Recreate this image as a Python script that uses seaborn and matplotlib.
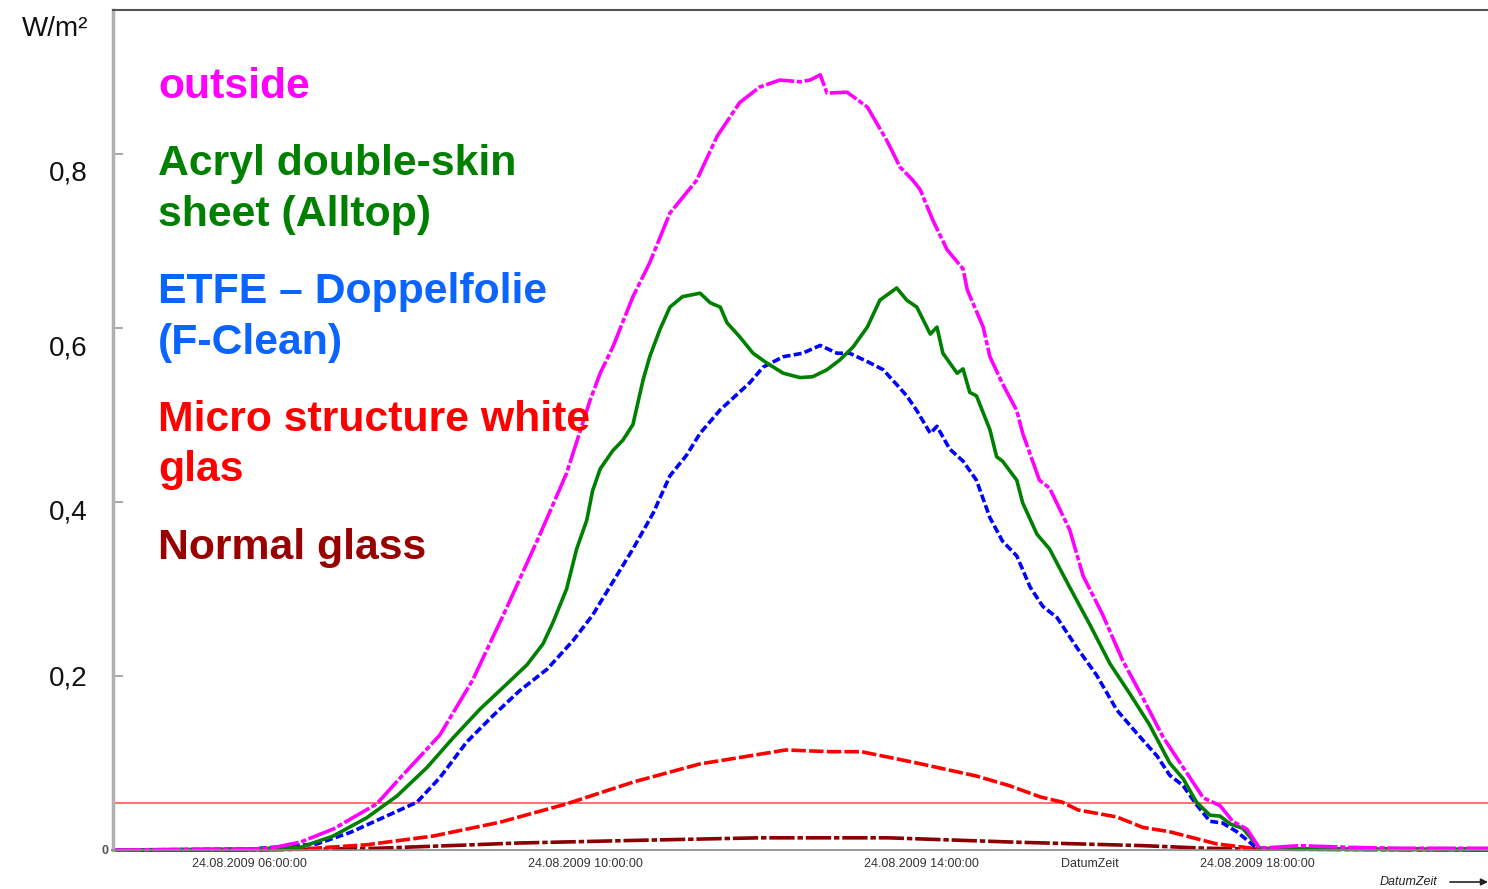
import matplotlib
matplotlib.use("Agg")
import matplotlib.pyplot as plt
import matplotlib.transforms as mtransforms
from matplotlib.ticker import MultipleLocator
import pandas as pd
import seaborn as sns

# ---------------- data (hours of 24.08.2009, W/m² as shown on axis) ----------------
t_outside = [4.37, 6.00, 6.24, 6.60, 6.99, 7.51, 7.79, 8.26, 8.65, 9.06, 9.45, 9.77, 10.05, 10.17,
             10.32, 10.56, 10.76, 11.00, 11.32, 11.56, 11.83, 12.07, 12.31, 12.55, 12.67, 12.79,
             12.87, 13.11, 13.35, 13.58, 13.74, 13.89, 13.98, 14.13, 14.30, 14.49, 14.54, 14.73,
             14.81, 14.96, 15.13, 15.20, 15.40, 15.52, 15.76, 15.92, 16.15, 16.39, 16.63, 16.87,
             17.11, 17.35, 17.55, 17.70, 17.87, 18.02, 18.50, 19.10, 19.69, 20.74]
v_outside = [0.000, 0.001, 0.002, 0.009, 0.024, 0.053, 0.083, 0.132, 0.195, 0.279, 0.362, 0.433,
             0.517, 0.548, 0.578, 0.636, 0.675, 0.732, 0.770, 0.820, 0.859, 0.877, 0.885, 0.883,
             0.885, 0.891, 0.870, 0.871, 0.854, 0.816, 0.785, 0.770, 0.759, 0.724, 0.690, 0.668,
             0.644, 0.601, 0.567, 0.536, 0.505, 0.479, 0.425, 0.416, 0.368, 0.315, 0.271, 0.218,
             0.175, 0.130, 0.095, 0.060, 0.051, 0.033, 0.024, 0.002, 0.005, 0.003, 0.002, 0.002]

t_acryl = [4.37, 6.00, 6.60, 6.99, 7.39, 7.75, 8.11, 8.42, 8.74, 9.06, 9.30, 9.49, 9.61, 9.77,
           9.89, 10.01, 10.08, 10.17, 10.32, 10.44, 10.56, 10.68, 10.76, 10.88, 11.00, 11.15,
           11.36, 11.48, 11.60, 11.68, 11.83, 11.99, 12.15, 12.35, 12.55, 12.70, 12.87, 13.02,
           13.18, 13.35, 13.50, 13.70, 13.82, 13.94, 14.10, 14.18, 14.25, 14.42, 14.49, 14.57,
           14.65, 14.81, 14.89, 14.96, 15.13, 15.20, 15.37, 15.52, 15.76, 16.00, 16.24, 16.48,
           16.71, 16.95, 17.11, 17.27, 17.43, 17.55, 17.67, 17.82, 18.02, 18.50, 20.74]
v_acryl = [0.000, 0.001, 0.003, 0.016, 0.037, 0.062, 0.095, 0.129, 0.162, 0.191, 0.213, 0.237,
           0.262, 0.300, 0.346, 0.379, 0.413, 0.438, 0.459, 0.471, 0.489, 0.540, 0.567, 0.598,
           0.624, 0.636, 0.640, 0.629, 0.624, 0.606, 0.590, 0.571, 0.560, 0.548, 0.543, 0.544,
           0.552, 0.563, 0.578, 0.601, 0.632, 0.646, 0.632, 0.624, 0.593, 0.601, 0.571, 0.548,
           0.553, 0.526, 0.522, 0.483, 0.452, 0.447, 0.425, 0.399, 0.363, 0.346, 0.302, 0.259,
           0.214, 0.179, 0.144, 0.100, 0.082, 0.055, 0.040, 0.039, 0.030, 0.025, 0.002, 0.001,
           0.001]

t_etfe = [4.37, 6.00, 6.80, 7.19, 7.58, 7.99, 8.26, 8.58, 8.89, 9.21, 9.54, 9.85, 10.08, 10.32,
          10.56, 10.80, 11.00, 11.20, 11.36, 11.60, 11.95, 12.11, 12.35, 12.58, 12.79, 12.99,
          13.14, 13.38, 13.54, 13.70, 13.82, 13.94, 14.10, 14.18, 14.33, 14.49, 14.65, 14.81,
          14.96, 15.13, 15.29, 15.44, 15.61, 15.85, 16.08, 16.32, 16.56, 16.80, 16.95, 17.11,
          17.27, 17.43, 17.58, 17.75, 17.99, 18.50, 20.74]
v_etfe = [0.000, 0.001, 0.007, 0.020, 0.037, 0.055, 0.083, 0.124, 0.154, 0.183, 0.208, 0.241,
          0.270, 0.308, 0.346, 0.387, 0.430, 0.454, 0.479, 0.506, 0.537, 0.555, 0.567, 0.571,
          0.580, 0.571, 0.571, 0.560, 0.552, 0.535, 0.522, 0.505, 0.479, 0.487, 0.461, 0.447,
          0.425, 0.382, 0.355, 0.338, 0.302, 0.280, 0.267, 0.232, 0.201, 0.161, 0.134, 0.108,
          0.086, 0.074, 0.052, 0.033, 0.031, 0.021, 0.002, 0.001, 0.001]

t_micro = [4.37, 6.00, 6.60, 7.39, 8.18, 8.98, 9.77, 10.56, 11.36, 11.62, 12.38, 12.90, 13.28,
           13.94, 14.65, 15.04, 15.41, 15.67, 15.86, 16.32, 16.63, 16.95, 17.51, 18.02, 20.74]
v_micro = [0.000, 0.000, 0.001, 0.006, 0.016, 0.032, 0.053, 0.078, 0.099, 0.103, 0.115, 0.113,
           0.113, 0.100, 0.085, 0.074, 0.061, 0.055, 0.046, 0.038, 0.026, 0.021, 0.007, 0.001,
           0.000]

t_normal = [4.37, 6.00, 7.52, 8.65, 9.19, 10.56, 12.07, 13.60, 15.11, 16.63, 17.39, 18.02, 20.74]
v_normal = [0.000, 0.000, 0.002, 0.006, 0.008, 0.011, 0.014, 0.014, 0.009, 0.005, 0.002, 0.001,
            0.000]

threshold = 0.054

y_ticks = [0, 0.2, 0.4, 0.6, 0.8]
y_labels = ["0", "0,2", "0,4", "0,6", "0,8"]
x_ticks = [6, 10, 14, 16, 18]
x_labels = ["24.08.2009 06:00:00", "24.08.2009 10:00:00", "24.08.2009 14:00:00",
            "DatumZeit", "24.08.2009 18:00:00"]

legend_lines = [("outside", "#ff00ff"),
                ("Acryl double-skin", "#008000"), ("sheet (Alltop)", "#008000"),
                ("ETFE \u2013 Doppelfolie", "#0a64ff"), ("(F-Clean)", "#0a64ff"),
                ("Micro structure white", "#ff0000"), ("glas", "#ff0000"),
                ("Normal glass", "#990000")]

# ---------------- styling ----------------
sns.set_style("white")
plt.rcParams['font.family'] = ['Liberation Sans', 'DejaVu Sans']

W, H = 1488, 889
fig = plt.figure(figsize=(W / 100, H / 100), dpi=100)
ax = fig.add_axes([113 / W, 1 - 850 / H, 1 - 113 / W, (850 - 10) / H])

series = [
    (t_normal, v_normal, "#8b0000", (7, 0.8, 1.5, 0.8)),
    (t_micro, v_micro, "#ff0000", (4, 0.9)),
    (t_etfe, v_etfe, "#0000ff", (2.2, 0.9)),
    (t_acryl, v_acryl, "#008000", None),
    (t_outside, v_outside, "#ff00ff", (8, 0.7, 1.5, 0.7)),
]
for t, v, col, dash in series:
    df = pd.DataFrame({"t": t, "v": v})
    sns.lineplot(data=df, x="t", y="v", ax=ax, color=col, lw=2.6,
                 estimator=None, sort=False, clip_on=False)
    ln = ax.lines[-1]
    if dash is not None:
        ln.set_linestyle((0, dash))

ax.axhline(threshold, color="#ff5a5a", lw=1.2, zorder=1)

ax.set_xlim(4.37, 20.74)
ax.set_ylim(0, 0.9655)
ax.set_xlabel("")
ax.set_ylabel("")

ax.set_xticks(x_ticks)
ax.set_xticklabels(x_labels, fontsize=9, color="#333333")
ax.xaxis.set_minor_locator(MultipleLocator(1 / 12))
ax.tick_params(axis="x", which="major", direction="in", length=7, width=1,
               color="#999999", pad=6)
ax.tick_params(axis="x", which="minor", direction="in", length=2.5, width=0.8,
               color="#aaaaaa")

ax.set_yticks(y_ticks)
ax.set_yticklabels(y_labels, fontsize=20, color="#111111")
ax.tick_params(axis="y", which="major", direction="in", length=7, width=1.2,
               color="#999999", pad=18, left=True)

# per-label vertical offsets (pixels down) to match the reference placement
offsets_px = [0, 0, 8, 18, 17]
for lab, off, txt in zip(ax.get_yticklabels(), offsets_px, y_labels):
    if txt == "0":
        lab.set_fontsize(9)
        lab.set_color("#555555")
        lab.set_fontweight("bold")
        lab.set_transform(lab.get_transform() +
                          mtransforms.ScaledTranslation(20 / 100, 0, fig.dpi_scale_trans))
    else:
        lab.set_transform(lab.get_transform() +
                          mtransforms.ScaledTranslation(0, -off / 100, fig.dpi_scale_trans))

ax.spines["right"].set_visible(False)
ax.spines["top"].set_color("#555555")
ax.spines["top"].set_linewidth(1.5)
ax.spines["left"].set_color("#b0b0b0")
ax.spines["left"].set_linewidth(2.5)
ax.spines["bottom"].set_color("#888888")
ax.spines["bottom"].set_linewidth(1.2)

# unit label
fig.text(55 / W, 1 - 29 / H, "W/m\u00b2", fontsize=20, ha="center", va="center",
         color="#111111")

# legend-like labels
legend_y = [87, 164, 215, 292, 343, 420, 470, 548]
for (txt, col), yc in zip(legend_lines, legend_y):
    fig.text(158 / W, 1 - yc / H, txt, fontsize=30.8, fontweight="bold", color=col,
             ha="left", va="center")

# axis caption with arrow at bottom-right
fig.text(1408 / W, 1 - 882 / H, "DatumZeit", fontsize=9, style="italic",
         ha="center", va="center", color="#222222")
ax.annotate("", xy=(1488, H - 882), xytext=(1450, H - 882),
            xycoords="figure pixels", textcoords="figure pixels",
            arrowprops=dict(arrowstyle="-|>", color="#222222", lw=1.2,
                            mutation_scale=10, shrinkA=0, shrinkB=0),
            annotation_clip=False)

fig.savefig("out.png", dpi=100)
